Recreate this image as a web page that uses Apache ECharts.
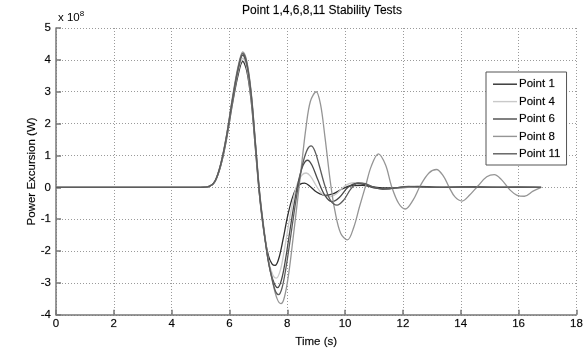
<!DOCTYPE html>
<html>
<head>
<meta charset="utf-8">
<script src="https://cdn.jsdelivr.net/npm/echarts@6/dist/echarts.min.js"></script>
<style>
  html, body { margin: 0; padding: 0; background: #fff; }
  #chart { width: 586px; height: 353px; }
</style>
</head>
<body>
<div id="chart"></div>
<script>
// Power excursion (units of 1e8 W) versus time (s) for each test point
const seriesNames = ['Point 1', 'Point 4', 'Point 6', 'Point 8', 'Point 11'];
const seriesColors = ['#2e2e2e', '#c9c9c9', '#4a4a4a', '#959595', '#5c5c5c'];

const point1 = [[0,0],[5.0,0],[5.3,0.03],[5.5,0.18],[5.7,0.68],[5.9,1.52],[6.1,2.6],[6.3,3.53],[6.46,3.95],[6.6,3.65],[6.75,2.72],[6.9,1.18],[7.05,-0.35],[7.2,-1.45],[7.35,-2.15],[7.47,-2.4],[7.58,-2.45],[7.7,-2.25],[7.85,-1.65],[8.0,-0.95],[8.15,-0.4],[8.3,-0.05],[8.45,0.1],[8.6,0.13],[8.8,0.02],[9.0,-0.14],[9.3,-0.25],[9.6,-0.2],[9.9,-0.05],[10.2,0.05],[10.6,0.06],[11.0,0.01],[11.5,-0.02],[12.5,0.01],[13.5,0],[14.5,0.01],[15.5,0],[16.78,0]];

const point4 = [[0,0],[5.0,0],[5.3,0.03],[5.5,0.19],[5.7,0.7],[5.9,1.57],[6.1,2.68],[6.3,3.63],[6.46,4.05],[6.6,3.75],[6.75,2.82],[6.9,1.25],[7.05,-0.32],[7.2,-1.45],[7.35,-2.3],[7.5,-2.75],[7.62,-2.85],[7.76,-2.6],[7.9,-1.95],[8.05,-1.15],[8.2,-0.4],[8.35,0.12],[8.5,0.38],[8.65,0.45],[8.8,0.35],[9.0,0.05],[9.2,-0.2],[9.45,-0.3],[9.7,-0.2],[10.0,0.05],[10.3,0.15],[10.55,0.14],[10.8,0.05],[11.1,-0.03],[11.5,-0.04],[12,0],[13,0.02],[14,0],[15,0.01],[16,0],[16.78,0]];

const point6 = [[0,0],[5.0,0],[5.3,0.03],[5.5,0.19],[5.7,0.72],[5.9,1.6],[6.1,2.72],[6.3,3.7],[6.46,4.15],[6.6,3.85],[6.75,2.9],[6.9,1.3],[7.05,-0.3],[7.2,-1.42],[7.35,-2.35],[7.5,-2.9],[7.66,-3.15],[7.8,-2.9],[7.95,-2.2],[8.1,-1.3],[8.25,-0.45],[8.4,0.25],[8.55,0.7],[8.7,0.85],[8.85,0.7],[9.05,0.25],[9.3,-0.25],[9.55,-0.45],[9.8,-0.32],[10.1,0.0],[10.4,0.12],[10.7,0.08],[11.0,-0.02],[11.4,-0.05],[11.9,0.0],[12.5,0.03],[13.5,0],[14.5,0.01],[15.5,0],[16.78,0]];

const point8 = [[0,0],[5.0,0],[5.3,0.03],[5.5,0.2],[5.7,0.75],[5.9,1.65],[6.1,2.8],[6.3,3.8],[6.46,4.25],[6.6,3.95],[6.75,3.0],[6.9,1.4],[7.05,-0.2],[7.2,-1.35],[7.35,-2.3],[7.5,-3.0],[7.65,-3.5],[7.78,-3.65],[7.9,-3.45],[8.05,-2.7],[8.2,-1.6],[8.35,-0.45],[8.5,0.75],[8.65,1.9],[8.8,2.7],[9.0,3.0],[9.15,2.6],[9.3,1.6],[9.5,0.1],[9.65,-0.75],[9.85,-1.45],[10.08,-1.65],[10.3,-1.25],[10.5,-0.6],[10.71,0.05],[10.9,0.65],[11.15,1.05],[11.4,0.7],[11.6,0.05],[11.85,-0.5],[12.08,-0.68],[12.35,-0.4],[12.6,0.05],[12.9,0.45],[13.16,0.56],[13.4,0.35],[13.6,0.0],[13.8,-0.3],[14.05,-0.43],[14.3,-0.25],[14.6,0.05],[14.9,0.33],[15.16,0.4],[15.4,0.25],[15.7,-0.08],[15.95,-0.25],[16.2,-0.28],[16.5,-0.12],[16.78,0.0]];

const point11 = [[0,0],[5.0,0],[5.3,0.03],[5.5,0.2],[5.7,0.74],[5.9,1.62],[6.1,2.75],[6.3,3.75],[6.46,4.2],[6.6,3.9],[6.75,2.95],[6.9,1.35],[7.05,-0.25],[7.2,-1.4],[7.35,-2.35],[7.5,-2.98],[7.6,-3.28],[7.7,-3.37],[7.82,-3.15],[7.95,-2.55],[8.1,-1.65],[8.25,-0.7],[8.4,0.15],[8.55,0.8],[8.7,1.2],[8.82,1.3],[8.95,1.15],[9.1,0.7],[9.3,0.05],[9.5,-0.42],[9.72,-0.56],[9.95,-0.4],[10.2,-0.05],[10.45,0.14],[10.7,0.12],[11.0,0.0],[11.3,-0.06],[11.7,-0.02],[12.2,0.03],[13,0],[14,0.01],[15,0],[16,0.01],[16.78,0]];

const seriesData = [point1, point4, point6, point8, point11];

const xTicks = { min: 0, max: 18, step: 2 };
const yTicks = { min: -4, max: 5, step: 1 };

const font = 'Arial, "Liberation Sans", Helvetica, sans-serif';
const gridLine = { show: true, lineStyle: { color: '#9a9a9a', type: [1, 2], width: 1 } };
const labelText = { fontFamily: font, fontSize: 11.5, color: '#000', textBorderColor: 'rgba(0,0,0,0.35)', textBorderWidth: 0.4 };

const chart = echarts.init(document.getElementById('chart'), null, { renderer: 'canvas' });
chart.setOption({
  animation: false,
  backgroundColor: '#fff',
  title: {
    text: 'Point 1,4,6,8,11 Stability Tests',
    left: 317, top: 0, textAlign: 'center',
    textStyle: Object.assign({}, labelText, { fontSize: 12, fontWeight: 'normal' })
  },
  grid: { left: 56, right: 8, top: 28, bottom: 36, containLabel: false },
  legend: {
    orient: 'vertical',
    left: 486, top: 72,
    width: 77,
    padding: [6, 6, 5, 7],
    itemGap: 5,
    itemWidth: 24, itemHeight: 1.4,
    icon: 'rect',
    borderColor: '#555', borderWidth: 1,
    backgroundColor: '#fff',
    textStyle: Object.assign({}, labelText, { padding: [0, 0, 0, -3] }),
    data: seriesNames
  },
  xAxis: {
    type: 'value', min: xTicks.min, max: xTicks.max, interval: xTicks.step,
    name: 'Time (s)', nameLocation: 'middle', nameGap: 21,
    nameTextStyle: labelText,
    axisLine: { show: true, onZero: false, lineStyle: { color: '#777', width: 1.5 } },
    axisTick: { show: true, inside: true, length: 5, lineStyle: { color: '#777', width: 1.5 } },
    axisLabel: Object.assign({ margin: 3 }, labelText),
    splitLine: gridLine
  },
  yAxis: {
    type: 'value', min: yTicks.min, max: yTicks.max, interval: yTicks.step,
    name: 'Power Excursion (W)', nameLocation: 'middle', nameGap: 18, nameRotate: 90,
    nameMoveOverlap: false,
    nameTextStyle: labelText,
    axisLine: { show: true, onZero: false, lineStyle: { color: '#777', width: 1.5 } },
    axisTick: { show: true, inside: true, length: 5, lineStyle: { color: '#777', width: 1.5 } },
    axisLabel: Object.assign({ margin: 5 }, labelText),
    splitLine: gridLine
  },
  graphic: [{
    type: 'text', left: 58, top: 10,
    style: {
      text: '{b|x 10}{s|8}',
      rich: {
        b: { fontFamily: font, fontSize: 11.5, fill: '#000', verticalAlign: 'bottom' },
        s: { fontFamily: font, fontSize: 8, fill: '#000', padding: [0, 0, 6, 0] }
      }
    }
  }],
  series: seriesNames.map((name, i) => ({
    name,
    type: 'line',
    data: seriesData[i],
    smooth: 0.35,
    showSymbol: false,
    symbol: 'none',
    lineStyle: { color: seriesColors[i], width: 1.3 },
    itemStyle: { color: seriesColors[i] },
    z: 2 + i
  }))
});
</script>
</body>
</html>
